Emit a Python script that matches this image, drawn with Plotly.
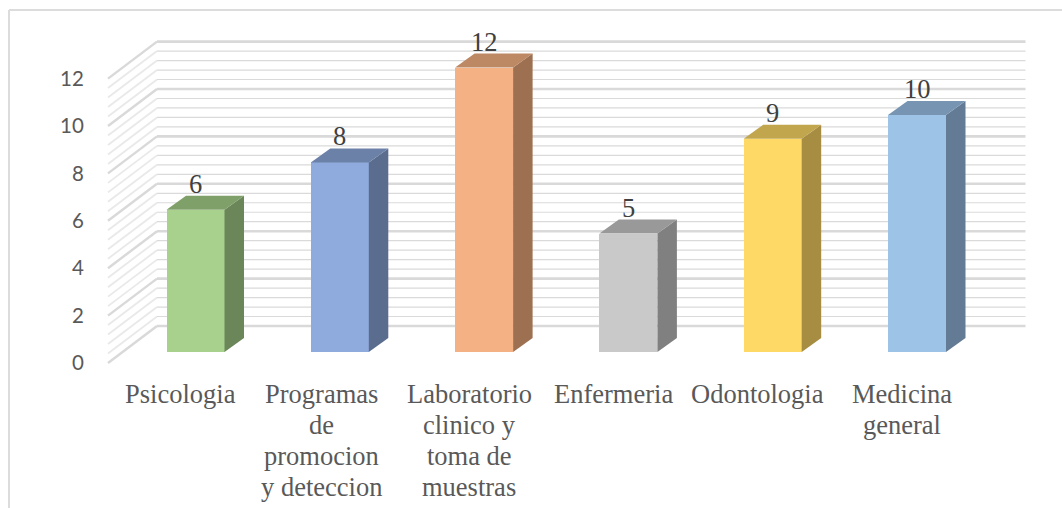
import plotly.graph_objects as go

# Data
categories = ["Psicologia", "Programas de promocion y deteccion", "Laboratorio clinico y toma de muestras",
              "Enfermeria", "Odontologia", "Medicina general"]
label_lines = [["Psicologia"], ["Programas", "de", "promocion", "y deteccion"],
               ["Laboratorio", "clinico y", "toma de", "muestras"], ["Enfermeria"], ["Odontologia"],
               ["Medicina", "general"]]
values = [6, 8, 12, 5, 9, 10]
front_colors = ["#A9D18E", "#8FAADC", "#F4B183", "#C9C9C9", "#FFD966", "#9DC3E6"]
side_colors = ["#6B875A", "#5A6D8F", "#9C7050", "#808080", "#A68D42", "#637B94"]
top_colors = ["#7FA068", "#6C81A8", "#BD8864", "#999999", "#C2A64E", "#7795B3"]
y_ticks = [0, 2, 4, 6, 8, 10, 12]

# Layout constants (pixels of the 1062x508 page)
W, H = 1062, 508
PL, PR, PT, PB = 100, 1040, 20, 380
SX = 144.3      # px per category
SY = 23.7       # px per value unit
X0 = 195.5      # px of first bar centre
Y_AXIS0 = 363   # px of value 0 on the front edge of the floor
Y_BAR0 = 352    # px of value 0 at the bar front
BAR_W = 58 / SX
DX_BAR, DY_BAR = 19.5 / SX, 14 / SY
WALL_L, WALL_R, FLOOR_L = 157, 1025.5, 108
WALL_DY = 37 / SY
LABEL_SHIFT = [-15, -18, -15, -15, -15, -15]


def xd(px):
    return (px - X0) / SX


xr = [xd(PL), xd(PR)]
yr = [(Y_AXIS0 - PB) / SY, (Y_AXIS0 - PT) / SY]
y2r = [(Y_BAR0 - PB) / SY, (Y_BAR0 - PT) / SY]

fig = go.Figure()

# Walls: gridlines every 0.4 on the back and side walls
for k in range(31):
    v = k * 0.4
    major = k % 5 == 0
    color = "#d9d9d9" if major else "#dadada"
    width = 2.6 if major else 1.2
    side_color = "#d9d9d9" if major else "#e9e9e9"
    fig.add_trace(go.Scatter(x=[xd(WALL_L), xd(WALL_R)], y=[v + WALL_DY] * 2, mode="lines",
                             line=dict(color=color, width=width), hoverinfo="skip", showlegend=False))
    fig.add_trace(go.Scatter(x=[xd(FLOOR_L), xd(WALL_L)], y=[v, v + WALL_DY], mode="lines",
                             line=dict(color=side_color, width=2.4 if major else 1.8),
                             hoverinfo="skip", showlegend=False))

# Front faces
fig.add_trace(go.Bar(x=list(range(len(values))), y=values, width=BAR_W, yaxis="y2",
                     marker=dict(color=front_colors, line=dict(width=0)),
                     hovertext=categories, showlegend=False))

# Side and top faces
for i, v in enumerate(values):
    l, r = i - BAR_W / 2, i + BAR_W / 2
    fig.add_trace(go.Scatter(x=[r, r + DX_BAR, r + DX_BAR, r, r], y=[0, DY_BAR, v + DY_BAR, v, 0], yaxis="y2",
                             mode="lines", line=dict(width=0), fill="toself", fillcolor=side_colors[i],
                             hoverinfo="skip", showlegend=False))
    fig.add_trace(go.Scatter(x=[l, l + DX_BAR, r + DX_BAR, r, l], y=[v, v + DY_BAR, v + DY_BAR, v, v], yaxis="y2",
                             mode="lines", line=dict(width=0), fill="toself", fillcolor=top_colors[i],
                             hoverinfo="skip", showlegend=False))
    # Data label
    fig.add_annotation(x=i, y=v, yref="y2", yshift=26, text=str(v), showarrow=False, yanchor="middle",
                       font=dict(family="Liberation Serif", size=26.5, color="#404040"))
    # Category label lines
    for j, line in enumerate(label_lines[i]):
        fig.add_annotation(x=i, xshift=LABEL_SHIFT[i], y=0, yref="y2", yshift=Y_BAR0 - 394 - j * 31.1, text=line,
                           showarrow=False, yanchor="middle",
                           font=dict(family="Liberation Serif", size=26.5, color="#595959"))

# Chart frame
fx = lambda px: (px - PL) / (PR - PL)
frame = dict(type="line", xref="paper", yref="paper", line=dict(color="#dcdcdc", width=2))
top_p = (PB - 10) / (PB - PT)
bot_p = (PB - H) / (PB - PT)
fig.add_shape(x0=fx(9), x1=fx(9), y0=bot_p, y1=top_p, **frame)
fig.add_shape(x0=fx(9), x1=fx(W), y0=top_p, y1=top_p, **frame)

fig.update_layout(
    width=W, height=H, autosize=False,
    margin=dict(l=PL, r=W - PR, t=PT, b=H - PB, pad=0),
    paper_bgcolor="white", plot_bgcolor="rgba(0,0,0,0)",
    bargap=0, showlegend=False,
    xaxis=dict(range=xr, showgrid=False, zeroline=False, showline=False, showticklabels=False, ticks=""),
    yaxis=dict(range=yr, tickvals=y_ticks, showgrid=False, zeroline=False, showline=False, ticks="outside",
               ticklen=11, tickcolor="rgba(0,0,0,0)", tickfont=dict(family="Lato", size=20.5, color="#595959")),
    yaxis2=dict(range=y2r, overlaying="y", side="right", showgrid=False, zeroline=False, showline=False,
                showticklabels=False, ticks=""),
)
fig.write_html("out.html", config={"displayModeBar": False},
               post_script="document.body.style.margin='0';document.body.style.overflow='hidden';")
